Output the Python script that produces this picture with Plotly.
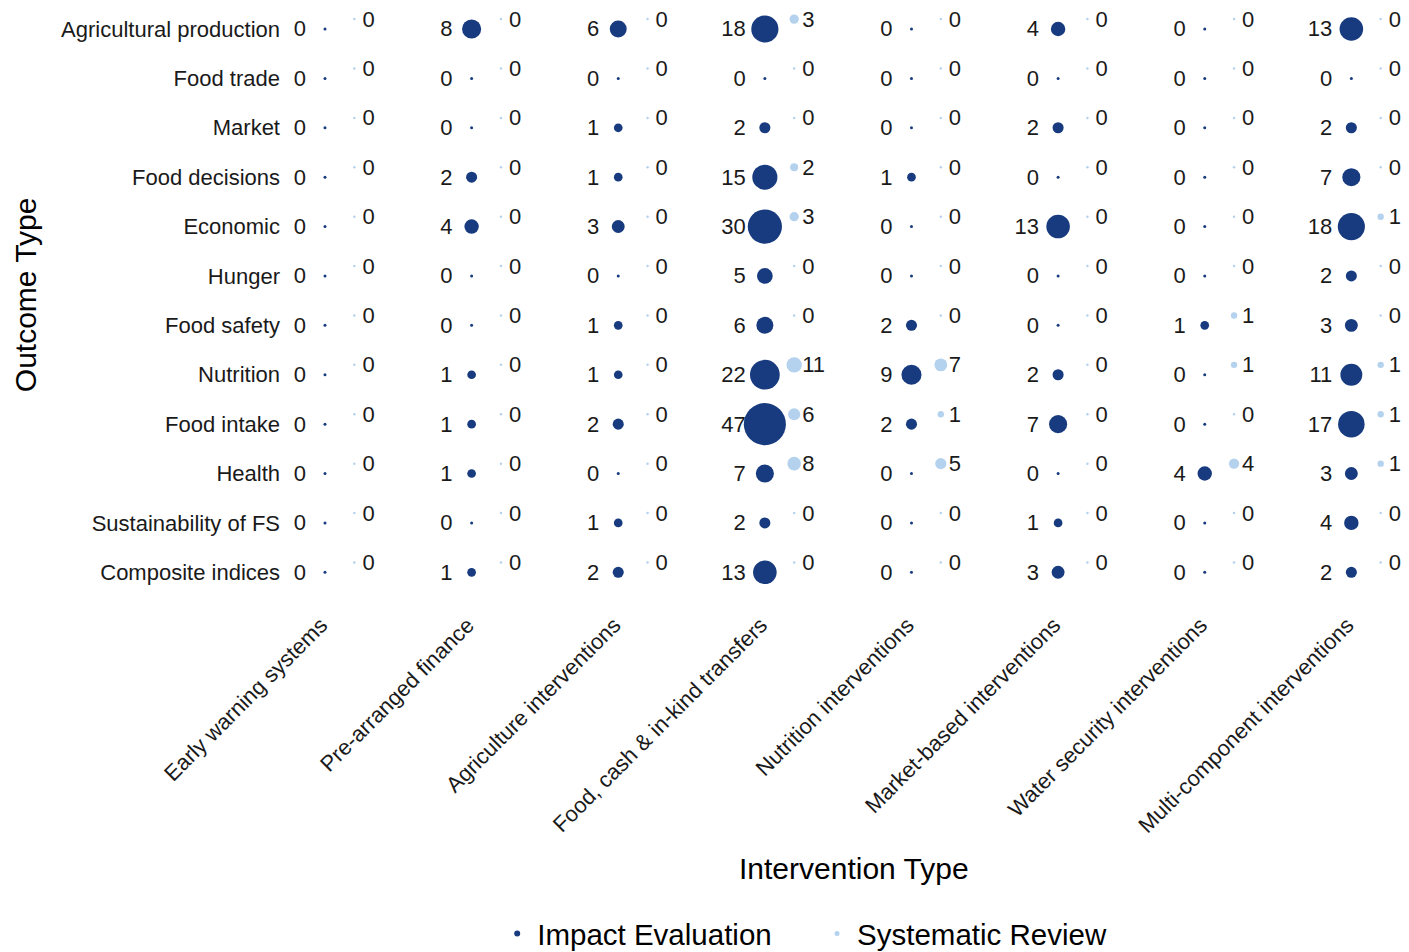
import plotly.graph_objects as go
import numpy as np

outcomes = ["Agricultural production", "Food trade", "Market", "Food decisions", "Economic",
            "Hunger", "Food safety", "Nutrition", "Food intake", "Health",
            "Sustainability of FS", "Composite indices"]
interventions = ["Early warning systems", "Pre-arranged finance", "Agriculture interventions",
                 "Food, cash & in-kind transfers", "Nutrition interventions",
                 "Market-based interventions", "Water security interventions",
                 "Multi-component interventions"]

impact_eval = [
    [0, 8, 6, 18, 0, 4, 0, 13],
    [0, 0, 0, 0, 0, 0, 0, 0],
    [0, 0, 1, 2, 0, 2, 0, 2],
    [0, 2, 1, 15, 1, 0, 0, 7],
    [0, 4, 3, 30, 0, 13, 0, 18],
    [0, 0, 0, 5, 0, 0, 0, 2],
    [0, 0, 1, 6, 2, 0, 1, 3],
    [0, 1, 1, 22, 9, 2, 0, 11],
    [0, 1, 2, 47, 2, 7, 0, 17],
    [0, 1, 0, 7, 0, 0, 4, 3],
    [0, 0, 1, 2, 0, 1, 0, 4],
    [0, 1, 2, 13, 0, 3, 0, 2],
]
systematic_review = [
    [0, 0, 0, 3, 0, 0, 0, 0],
    [0, 0, 0, 0, 0, 0, 0, 0],
    [0, 0, 0, 0, 0, 0, 0, 0],
    [0, 0, 0, 2, 0, 0, 0, 0],
    [0, 0, 0, 3, 0, 0, 0, 1],
    [0, 0, 0, 0, 0, 0, 0, 0],
    [0, 0, 0, 0, 0, 0, 1, 0],
    [0, 0, 0, 11, 7, 0, 1, 1],
    [0, 0, 0, 6, 1, 0, 0, 1],
    [0, 0, 0, 8, 5, 0, 4, 1],
    [0, 0, 0, 0, 0, 0, 0, 0],
    [0, 0, 0, 0, 0, 0, 0, 0],
]

IE_COLOR = "#173B7E"
SR_COLOR = "#B4D2EE"
TEXT_COLOR = "#1a1a1a"
FONT = "Liberation Sans, Arial, sans-serif"

nrow = len(outcomes)
ie_x, ie_y, ie_v, sr_x, sr_y, sr_v = [], [], [], [], [], []
for r, name in enumerate(outcomes):
    yv = nrow - 1 - r
    for c in range(len(interventions)):
        ie_x.append(c); ie_y.append(yv); ie_v.append(impact_eval[r][c])
        sr_x.append(c + 0.2); sr_y.append(yv + 0.2); sr_v.append(systematic_review[r][c])

ie_v = np.array(ie_v); sr_v = np.array(sr_v)
ie_x = np.array(ie_x); ie_y = np.array(ie_y); sr_x = np.array(sr_x); sr_y = np.array(sr_y)
ie_size = 3 + 5.7 * np.sqrt(ie_v)
sr_size = 2.5 + 3.9 * np.sqrt(sr_v)

fig = go.Figure()
fig.add_trace(go.Scatter(x=ie_x, y=ie_y, mode="markers", showlegend=False, cliponaxis=False,
                         marker=dict(size=ie_size, color=IE_COLOR, opacity=1, line=dict(width=0)),
                         hoverinfo="skip"))
fig.add_trace(go.Scatter(x=sr_x, y=sr_y, mode="markers", showlegend=False, cliponaxis=False,
                         marker=dict(size=sr_size, color=SR_COLOR, opacity=1, line=dict(width=0)),
                         hoverinfo="skip"))
fig.add_trace(go.Scatter(x=ie_x - 0.13, y=ie_y - 0.04, mode="text", showlegend=False,
                         cliponaxis=False,
                         text=[str(v) for v in ie_v], textposition="middle left",
                         textfont=dict(size=22, color=TEXT_COLOR, family=FONT), hoverinfo="skip"))
fig.add_trace(go.Scatter(x=sr_x + 0.055, y=sr_y - 0.04, mode="text", showlegend=False,
                         cliponaxis=False,
                         text=[str(v) for v in sr_v], textposition="middle right",
                         textfont=dict(size=22, color=TEXT_COLOR, family=FONT), hoverinfo="skip"))
# legend entries
fig.add_trace(go.Scatter(x=[None], y=[None], mode="markers", name="Impact Evaluation",
                         marker=dict(size=6, color=IE_COLOR), legend="legend"))
fig.add_trace(go.Scatter(x=[None], y=[None], mode="markers", name="Systematic Review",
                         marker=dict(size=5, color=SR_COLOR), legend="legend2"))

fig.update_layout(
    width=1409, height=952,
    margin=dict(l=273, r=7, t=0, b=363),
    plot_bgcolor="white", paper_bgcolor="white",
    font=dict(family=FONT, color=TEXT_COLOR),
    xaxis=dict(range=[-0.3, 7.4], tickvals=list(range(len(interventions))),
               ticktext=interventions, tickangle=-45, showgrid=False, zeroline=False,
               showline=False, automargin=False, tickfont=dict(size=22, color=TEXT_COLOR),
               ticklabelstandoff=10, ticklabelshift=-4),
    yaxis=dict(range=[-0.5, 11.425], tickvals=list(range(nrow)),
               ticktext=outcomes[::-1], showgrid=False, zeroline=False, showline=False,
               automargin=False, tickfont=dict(size=22, color=TEXT_COLOR)),
    legend=dict(orientation="h", x=0.1915, xanchor="left", y=-0.572, yanchor="middle",
                font=dict(size=29.5, color="black"), itemwidth=30, bgcolor="rgba(0,0,0,0)"),
    legend2=dict(orientation="h", x=0.4748, xanchor="left", y=-0.572, yanchor="middle",
                 font=dict(size=29.5, color="black"), itemwidth=30, bgcolor="rgba(0,0,0,0)"),
    annotations=[
        dict(text="Intervention Type", xref="paper", yref="paper", x=0.5075, y=-0.461,
             xanchor="center", yanchor="middle", showarrow=False,
             font=dict(size=30, color="black", family=FONT)),
        dict(text="Outcome Type", xref="paper", yref="paper", x=-0.2267, y=0.5125,
             xanchor="center", yanchor="middle", showarrow=False, textangle=-90,
             font=dict(size=30, color="black", family=FONT)),
    ],
)

fig.write_html("out.html", config={"displayModeBar": False})
